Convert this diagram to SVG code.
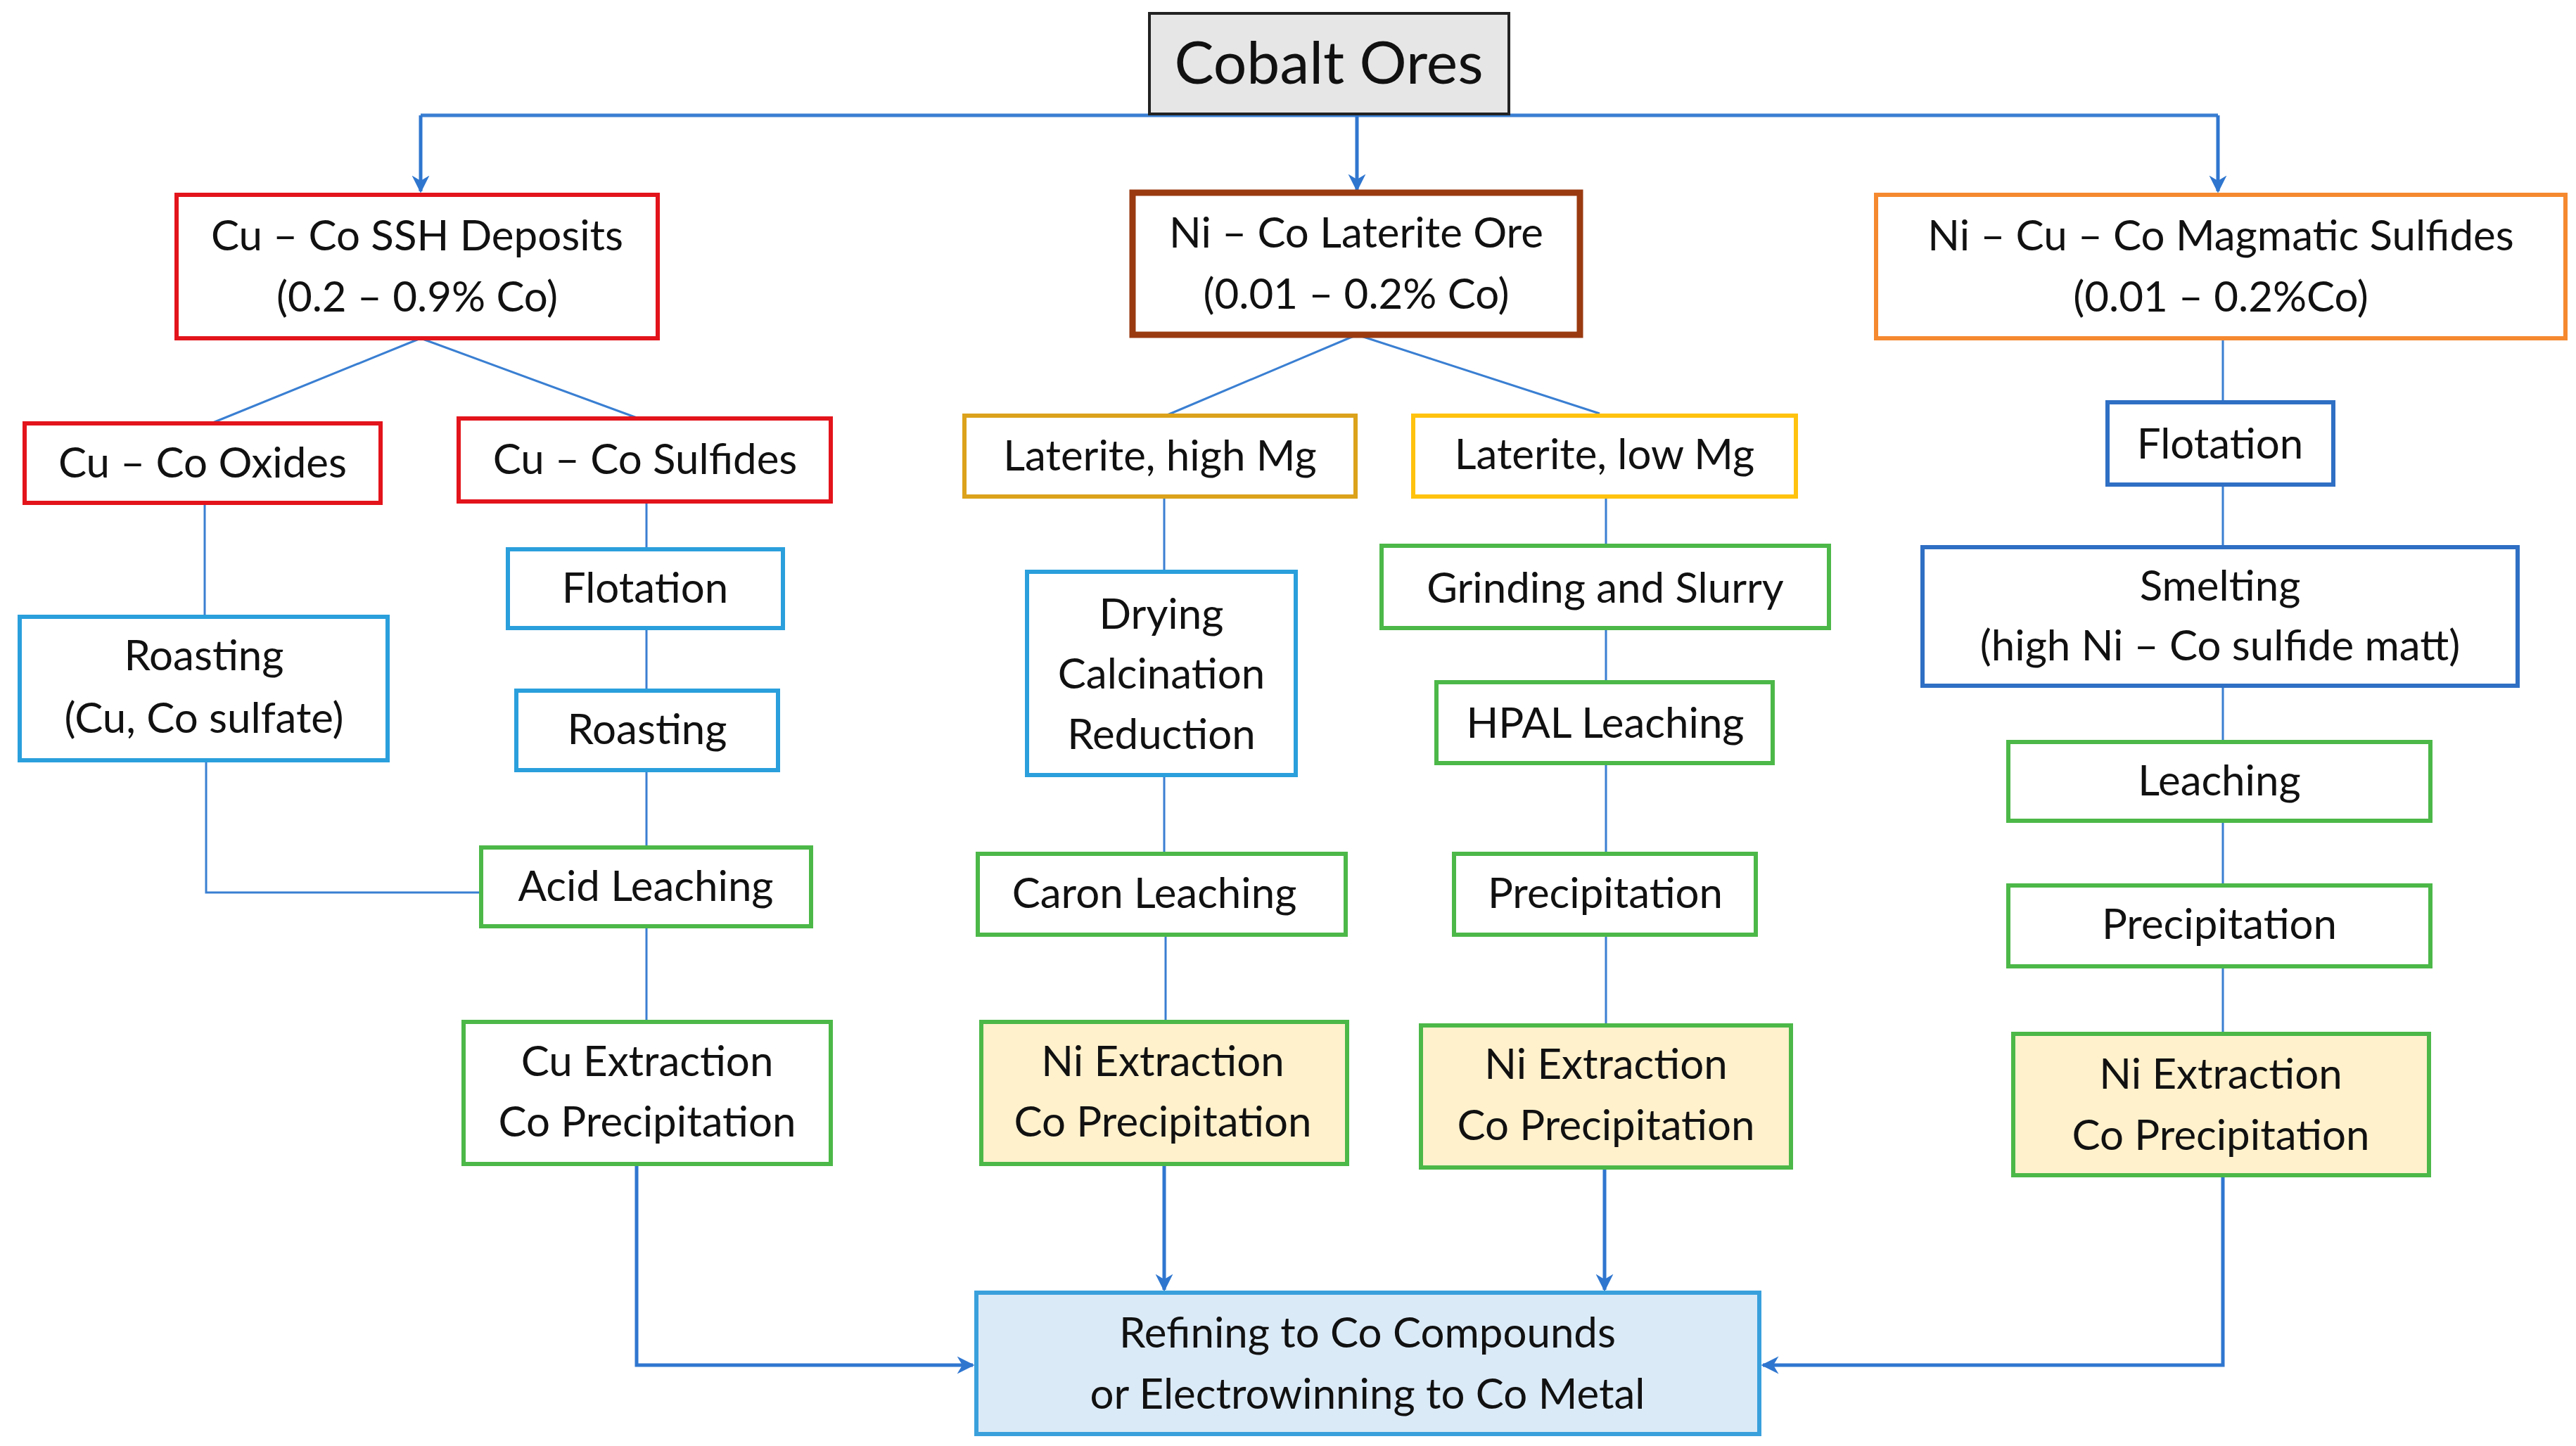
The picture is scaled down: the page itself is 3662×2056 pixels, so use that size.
<svg xmlns="http://www.w3.org/2000/svg" width="3662" height="2056" viewBox="0 0 3662 2056">
<style>
text{font-family:Lato,"Open Sans","Liberation Sans",sans-serif;font-size:60px;fill:#111;text-anchor:middle}
rect{stroke-width:6;fill:#fff}
.red{stroke:#e3141b}.brown{stroke:#9a3a10;stroke-width:9}.orange{stroke:#f5892f}
.gold{stroke:#dca21b}.yellow{stroke:#ffc20e}.lb{stroke:#2a9fdc}.db{stroke:#2f6fc4}
.gr{stroke:#4cb848}.ext{fill:#fff1cc}
.c{stroke:#3a7fd2;stroke-width:3;fill:none}
.a{stroke:#2f76cf;stroke-width:5;fill:none;marker-end:url(#ah)}
</style>
<defs><marker id="ah" viewBox="0 0 10 10" refX="9" refY="5" markerWidth="5" markerHeight="6" orient="auto"><path d="M0,0 L10,5 L0,10 L3,5 z" fill="#2f76cf"/></marker></defs>
<rect width="3662" height="2056" style="fill:#fff;stroke:none"/>
<g id="connectors">
<path class="c" style="stroke-width:5" d="M598,164 H3153"/>
<path class="a" d="M598,164 V272"/><path class="a" d="M1929,162 V270"/><path class="a" d="M3153,164 V272"/>
<path class="c" d="M598,481 L300,602 M598,481 L908,595 M1929,476 L1657,591 M1929,476 L2274,588"/>
<path class="c" d="M291,715 V877 M293,1081 V1269 H684 M919,713 V781 M919,893 V982 M919,1095 V1205 M919,1317 V1453"/>
<path class="c" d="M1655,706 V813 M1655,1102 V1214 M1657,1329 V1453 M2283,706 V776 M2283,893 V970 M2283,1085 V1214 M2283,1329 V1458"/>
<path class="c" d="M3160,481 V572 M3160,689 V778 M3160,975 V1055 M3160,1167 V1259 M3160,1374 V1470"/>
<path class="a" d="M905,1655 V1941 H1383"/>
<path class="a" d="M1655,1655 V1834"/><path class="a" d="M2281,1660 V1834"/>
<path class="a" d="M3160,1671 V1941 H2506"/>
</g>
<g id="cobalt"><rect x="1634" y="19" width="511" height="143" style="fill:#e6e6e6;stroke:#222;stroke-width:4"/><text x="1889" y="119" style="font-size:84px">Cobalt Ores</text></g>
<g id="ssh"><rect class="red" x="251" y="277" width="684" height="204"/><text x="593" y="356">Cu – Co SSH Deposits</text><text x="593" y="443">(0.2 – 0.9% Co)</text></g>
<g id="laterite"><rect class="brown" x="1610" y="274" width="636" height="202"/><text x="1928" y="352">Ni – Co Laterite Ore</text><text x="1928" y="439">(0.01 – 0.2% Co)</text></g>
<g id="magmatic"><rect class="orange" x="2667" y="277" width="980" height="204"/><text x="3157" y="356">Ni – Cu – Co Magmatic Sulfides</text><text x="3157" y="443">(0.01 – 0.2%Co)</text></g>
<g id="oxides"><rect class="red" x="35" y="602" width="506" height="113"/><text x="288" y="679">Cu – Co Oxides</text></g>
<g id="sulfides"><rect class="red" x="652" y="595" width="529" height="118"/><text x="917" y="674">Cu – Co Sulfides</text></g>
<g id="highmg"><rect class="gold" x="1371" y="591" width="556" height="115"/><text x="1649" y="669">Laterite, high Mg</text></g>
<g id="lowmg"><rect class="yellow" x="2009" y="591" width="544" height="115"/><text x="2281" y="667">Laterite, low Mg</text></g>
<g id="flot-r"><rect class="db" x="2996" y="572" width="321" height="117"/><text x="3156" y="652">Flotation</text></g>
<g id="smelting"><rect class="db" x="2733" y="778" width="846" height="197"/><text x="3156" y="854">Smelting</text><text x="3156" y="939">(high Ni – Co sulfide matt)</text></g>
<g id="leach-r"><rect class="gr" x="2855" y="1055" width="600" height="112"/><text x="3155" y="1131">Leaching</text></g>
<g id="precip-r"><rect class="gr" x="2855" y="1259" width="600" height="115"/><text x="3155" y="1335">Precipitation</text></g>
<g id="niext-r"><rect class="gr ext" x="2862" y="1470" width="591" height="201"/><text x="3157" y="1548">Ni Extraction</text><text x="3157" y="1635">Co Precipitation</text></g>
<g id="roast-l"><rect class="lb" x="28" y="877" width="523" height="204"/><text x="290" y="953">Roasting</text><text x="290" y="1042">(Cu, Co sulfate)</text></g>
<g id="flot-l"><rect class="lb" x="722" y="781" width="391" height="112"/><text x="917" y="857">Flotation</text></g>
<g id="roast-m"><rect class="lb" x="734" y="982" width="372" height="113"/><text x="920" y="1058">Roasting</text></g>
<g id="acid"><rect class="gr" x="684" y="1205" width="469" height="112"/><text x="918" y="1281">Acid Leaching</text></g>
<g id="cuext"><rect class="gr" x="659" y="1453" width="522" height="202"/><text x="920" y="1530">Cu Extraction</text><text x="920" y="1616">Co Precipitation</text></g>
<g id="drying"><rect class="lb" x="1460" y="813" width="382" height="289"/><text x="1651" y="894">Drying</text><text x="1651" y="979">Calcination</text><text x="1651" y="1065">Reduction</text></g>
<g id="caron"><rect class="gr" x="1390" y="1214" width="523" height="115"/><text x="1641" y="1291">Caron Leaching</text></g>
<g id="niext-m"><rect class="gr ext" x="1395" y="1453" width="520" height="202"/><text x="1653" y="1530">Ni Extraction</text><text x="1653" y="1616">Co Precipitation</text></g>
<g id="grinding"><rect class="gr" x="1964" y="776" width="636" height="117"/><text x="2282" y="857">Grinding and Slurry</text></g>
<g id="hpal"><rect class="gr" x="2042" y="970" width="478" height="115"/><text x="2282" y="1049">HPAL Leaching</text></g>
<g id="precip-m"><rect class="gr" x="2067" y="1214" width="429" height="115"/><text x="2282" y="1291">Precipitation</text></g>
<g id="niext-m2"><rect class="gr ext" x="2020" y="1458" width="526" height="202"/><text x="2283" y="1534">Ni Extraction</text><text x="2283" y="1621">Co Precipitation</text></g>
<g id="refining"><rect x="1388" y="1838" width="1113" height="201" style="fill:#dbeaf7;stroke:#3aa0dc"/><text x="1944" y="1916">Refining to Co Compounds</text><text x="1944" y="2003">or Electrowinning to Co Metal</text></g>
</svg>
